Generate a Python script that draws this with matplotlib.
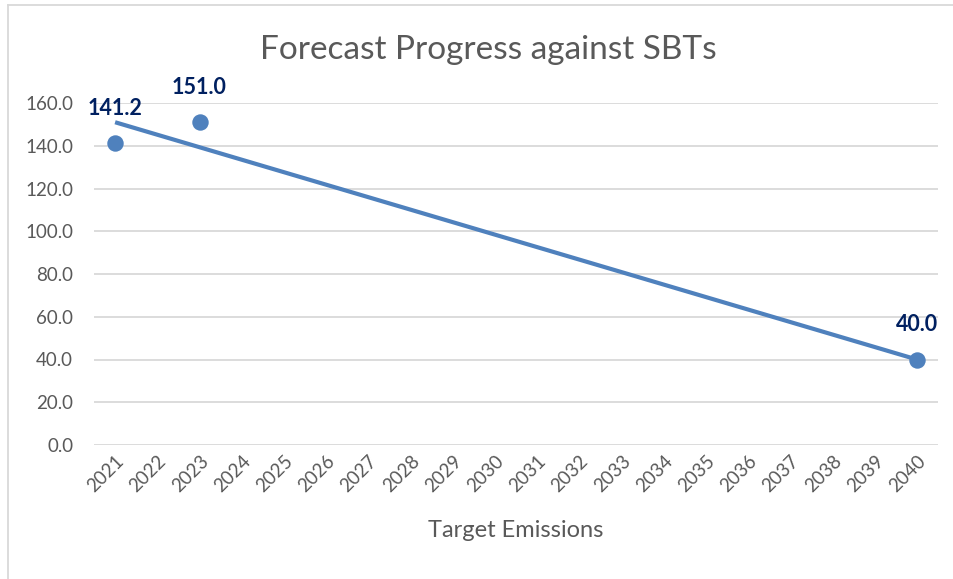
import matplotlib
matplotlib.use('Agg')
import matplotlib.pyplot as plt
from matplotlib.lines import Line2D

# chart values
years = list(range(2021, 2041))
year_labels = [str(y) for y in years]
point_years = [2021, 2023, 2040]
point_values = [141.2, 151.0, 40.0]
target_years = [2021, 2040]
target_values = [151.0, 40.0]
y_ticks = [0, 20, 40, 60, 80, 100, 120, 140, 160]

BLUE = '#4F81BD'
GRAY = '#595959'
NAVY = '#002060'

plt.rcParams['font.family'] = ['Lato', 'DejaVu Sans']

fig = plt.figure(figsize=(9.54, 5.79), dpi=100)
ax = fig.add_axes([94 / 954, 1 - 445 / 579, (938 - 94) / 954, (445 - 103) / 579])

# outer chart frame (only left and top edges are visible)
fig.add_artist(Line2D([8 / 954, 8 / 954], [0, 1 - 5 / 579], transform=fig.transFigure,
                      color='#D9D9D9', lw=1.3))
fig.add_artist(Line2D([8 / 954, 1], [1 - 5 / 579, 1 - 5 / 579], transform=fig.transFigure,
                      color='#D9D9D9', lw=1.3))

ax.plot(target_years, target_values, color=BLUE, lw=3, solid_capstyle='butt', zorder=3)
ax.scatter(point_years, point_values, s=140, color=BLUE, zorder=4, linewidths=0)

for x, v in zip(point_years, point_values):
    ax.annotate(f'{v:.1f}', (x, v), xytext=(0, 25), textcoords='offset points',
                ha='center', va='center', color=NAVY, fontsize=15.5, fontweight='bold')

ax.set_xlim(2020.5, 2040.5)
ax.set_ylim(0, 160)
ax.set_xticks(years)
ax.set_xticklabels(year_labels, rotation=45, ha='right', rotation_mode='anchor')
ax.set_yticks(y_ticks)
ax.set_yticklabels([f'{t:.1f}' for t in y_ticks])
ax.tick_params(length=0, labelsize=13.5, colors=GRAY)
ax.tick_params(axis='y', pad=15)
ax.tick_params(axis='x', pad=5)

ax.grid(axis='y', color='#D9D9D9', lw=1.3)
ax.set_axisbelow(True)
for s in ax.spines.values():
    s.set_visible(False)

ax.set_xlabel('Target Emissions', fontsize=17, color=GRAY, labelpad=18)
fig.text(488 / 954, 1 - 50 / 579, 'Forecast Progress against SBTs', ha='center', va='center',
         fontsize=24, color=GRAY)

fig.savefig('out.png', dpi=100)
